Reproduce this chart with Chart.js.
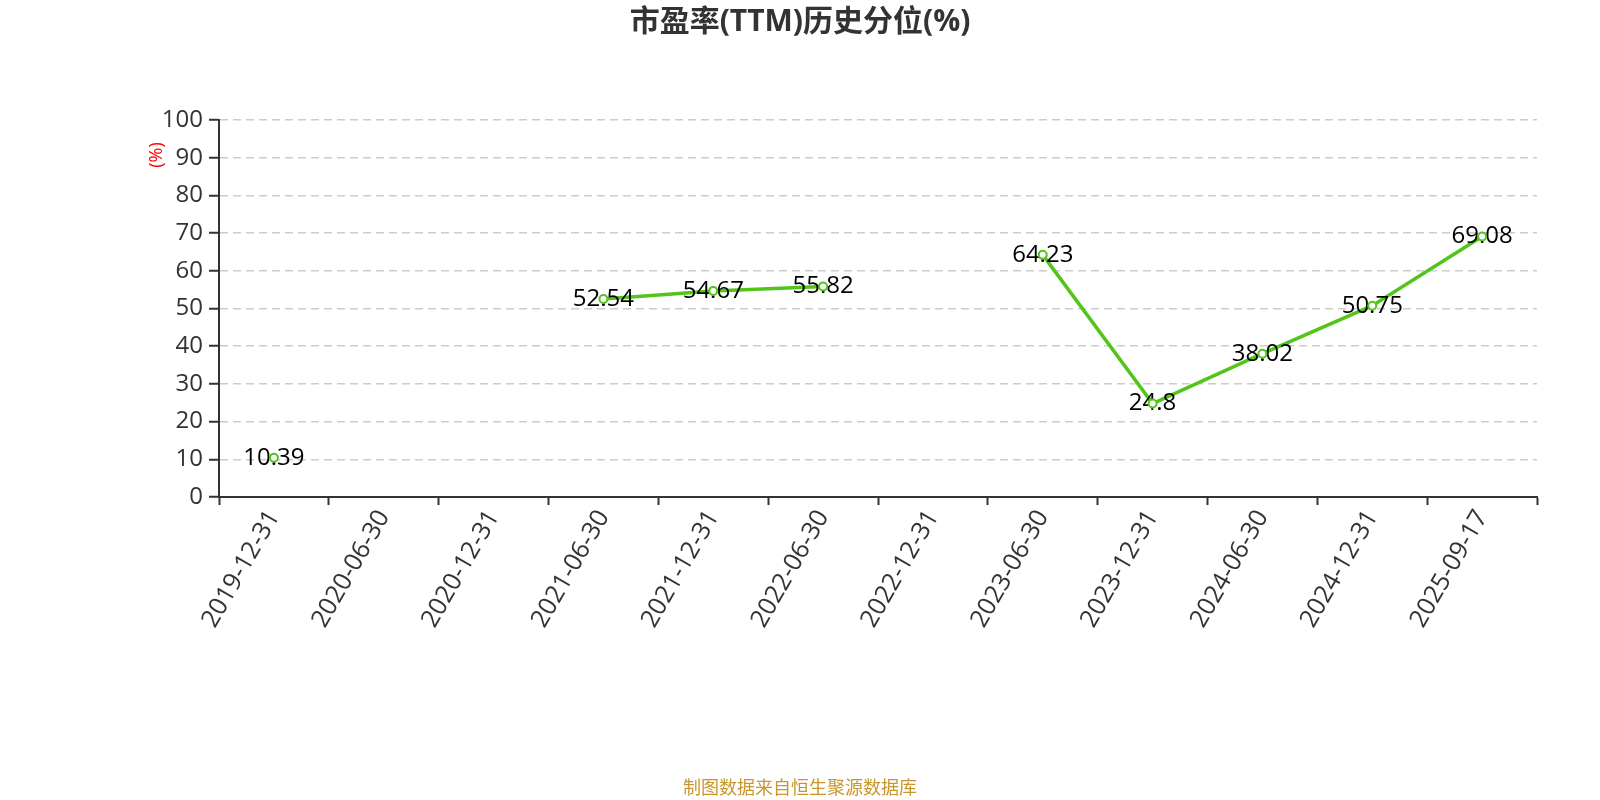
<!DOCTYPE html>
<html>
<head>
<meta charset="utf-8">
<script src="https://cdn.jsdelivr.net/npm/chart.js@4/dist/chart.umd.min.js"></script>
<style>
  html, body { margin: 0; padding: 0; background: #fff; }
  #wrap { width: 1600px; height: 800px; position: relative; }
</style>
</head>
<body>
<div id="wrap"><canvas id="c" width="1600" height="800"></canvas></div>
<script>
const categories = ['2019-12-31','2020-06-30','2020-12-31','2021-06-30','2021-12-31','2022-06-30','2022-12-31','2023-06-30','2023-12-31','2024-06-30','2024-12-31','2025-09-17'];
const peQuantile = [10.39, null, null, 52.54, 54.67, 55.82, null, 64.23, 24.8, 38.02, 50.75, 69.08];
const yTicks = [0,10,20,30,40,50,60,70,80,90,100];
const titleText = '市盈率(TTM)历史分位(%)';
const unitText = '(%)';
const footerText = '制图数据来自恒生聚源数据库';

const FONT = "'Microsoft YaHei','Open Sans','Noto Sans CJK SC',sans-serif";
const GREEN = '#52c41a';

const decor = {
  id: 'decor',
  afterDatasetDraw(chart, args) {
    if (args.index !== 0) return;
    const ctx = chart.ctx;
    const meta = chart.getDatasetMeta(0);
    ctx.save();
    ctx.font = '24px ' + FONT;
    ctx.fillStyle = '#000';
    ctx.textAlign = 'center';
    ctx.textBaseline = 'middle';
    meta.data.forEach((pt, i) => {
      const v = peQuantile[i];
      if (v === null) return;
      ctx.fillText(String(v), pt.x, pt.y);
    });
    ctx.restore();
  },
  afterDraw(chart) {
    const ctx = chart.ctx;
    ctx.save();
    ctx.fillStyle = '#333';
    ctx.font = 'bold 30px ' + FONT;
    ctx.textAlign = 'center';
    ctx.textBaseline = 'middle';
    ctx.fillText(titleText, 800, 22);
    ctx.fillStyle = '#c8962d';
    ctx.font = '18px ' + FONT;
    ctx.fillText(footerText, 800, 789);
    ctx.translate(157, 155);
    ctx.rotate(-Math.PI / 2);
    ctx.fillStyle = '#ff0000';
    ctx.font = '18px ' + FONT;
    ctx.fillText(unitText, 0, 0);
    ctx.restore();
  }
};

new Chart(document.getElementById('c'), {
  type: 'line',
  data: {
    labels: categories,
    datasets: [
      {
        data: peQuantile,
        borderColor: GREEN,
        borderWidth: 3.5,
        pointRadius: 0,
        spanGaps: false,
        fill: false,
        tension: 0,
        order: 2
      },
      {
        data: peQuantile,
        showLine: false,
        borderColor: GREEN,
        backgroundColor: '#fff',
        pointBackgroundColor: '#fff',
        pointBorderColor: GREEN,
        pointBorderWidth: 2,
        pointRadius: 4,
        order: 1
      }
    ]
  },
  options: {
    responsive: false,
    animation: false,
    devicePixelRatio: 1,
    layout: { padding: { left: 0, right: 63, top: 120, bottom: 0 } },
    plugins: { legend: { display: false }, title: { display: false }, tooltip: { enabled: false } },
    scales: {
      x: {
        type: 'category',
        offset: true,
        grid: { display: true, drawOnChartArea: false, offset: true, tickLength: 8, tickColor: '#333', tickWidth: 2 },
        border: { display: true, color: '#333', width: 2 },
        ticks: {
          autoSkip: false, minRotation: 60, maxRotation: 60, padding: 0,
          color: '#333', font: { size: 25, family: FONT }
        },
        afterFit(scale) { scale.height = 303; }
      },
      y: {
        min: 0, max: 100,
        afterBuildTicks(scale) { scale.ticks = yTicks.map(v => ({ value: v })); },
        grid: { color: '#cccccc', lineWidth: 1.5, tickLength: 10, tickColor: '#333', tickWidth: 2, tickBorderDash: [] },
        border: { display: true, color: '#333', width: 2, dash: [8, 5] },
        ticks: { padding: 6, color: '#333', font: { size: 24, family: FONT } },
        afterFit(scale) { scale.width = 219; }
      }
    }
  },
  plugins: [decor]
});
</script>
</body>
</html>
